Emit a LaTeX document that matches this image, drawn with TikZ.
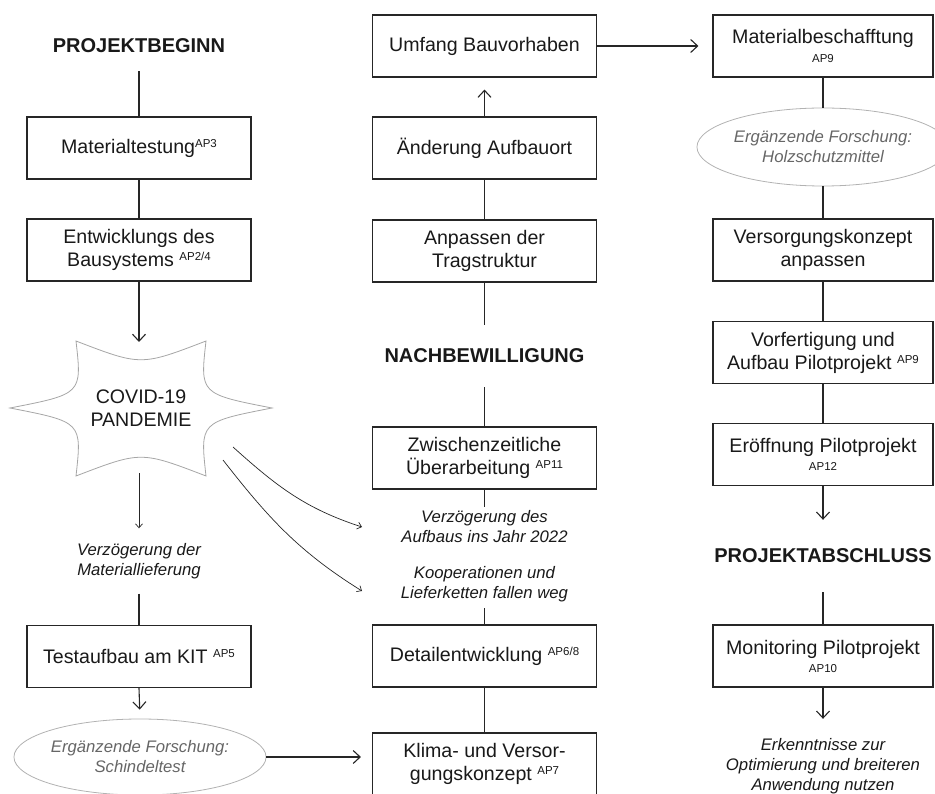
\documentclass[tikz,border=0pt]{standalone}
\usepackage{fontspec}
\setmainfont{Liberation Sans}
\usetikzlibrary{arrows.meta,shapes.geometric}
\newcommand\boxfont{\fontsize{19.6}{23}\selectfont}
\newcommand\ttlfont{\fontsize{20}{24}\selectfont\bfseries}
\newcommand\notefont{\fontsize{16.7}{20}\selectfont\itshape}
\newcommand\apx[1]{\raisebox{5.8pt}{\fontsize{11.5}{12}\selectfont #1}}
\newcommand\apb[1]{{\fontsize{11.5}{12}\selectfont #1}}
\tikzset{
  box/.style={draw=black!85, line width=1.1pt, minimum width=224pt, minimum height=62pt,
    inner sep=0pt, align=center, font=\boxfont, text=black!90},
  rbox/.style={box, minimum width=220pt},
  ttl/.style={font=\ttlfont, inner sep=0pt, align=center, text=black!90},
  note/.style={font=\notefont, inner sep=0pt, align=center, text=black!90},
  res/.style={ellipse, draw=black!30, line width=0.8pt, minimum width=226pt, minimum height=76pt,
    inner sep=0pt, align=center, font=\notefont, text=black!60},
  conn/.style={draw=black!85, line width=1.1pt},
  arr/.style={conn, -{Straight Barb[length=7pt,width=13pt]}},
  thinarr/.style={draw=black!85, line width=0.7pt, -{Straight Barb[length=4pt,width=7pt]}},
  starline/.style={draw=black!35, line width=0.8pt}
}
\begin{document}
\begin{tikzpicture}[x=1pt,y=-1pt]
\useasboundingbox (0,0) rectangle (935,794);

% ---------- left column ----------
\node[ttl, minimum height=50pt] (title1) at (139,46) {PROJEKTBEGINN};
\node[box] (mat) at (139,148) {Materialtestung\apx{AP3}};
\node[box] (entw) at (139,250) {Entwicklungs des\\Bausystems \apx{AP2/4}};
\coordinate (covtop) at (139,342);
\draw[starline] (76,341) .. controls (141,366) .. (206,341)
  .. controls (200,394) .. (272,408)
  .. controls (200,422) .. (206,476)
  .. controls (141,451) .. (76,476)
  .. controls (82,422) .. (10,408)
  .. controls (82,394) .. (76,341) -- cycle;
\node[font=\boxfont, align=center, inner sep=0pt, text=black!90] (covid) at (141,408) {COVID-19\\PANDEMIE};
\coordinate (covbot) at (139,473);
\node[note, minimum height=65pt] (verz1) at (139,561) {Verzögerung der\\Materiallieferung};
\node[box] (test) at (139,656.5) {Testaufbau am KIT \apx{AP5}};
\node[res] (schindel) at (140,757) {Ergänzende Forschung:\\Schindeltest};

\draw[conn] (title1.south) -- (mat.north);
\draw[conn] (mat.south) -- (entw.north);
\draw[arr] (entw.south) -- (covtop);
\draw[thinarr] (covbot) -- (verz1.north);
\draw[conn] (verz1.south) -- (test.north);
\draw[arr, shorten >=9pt] (test.south) -- (schindel.north);

% ---------- centre column ----------
\node[box] (umf) at (484.5,46) {Umfang Bauvorhaben};
\node[box] (aend) at (484.5,148) {Änderung Aufbauort};
\node[box] (anp) at (484.5,251) {Anpassen der\\Tragstruktur};
\node[ttl, minimum height=62pt] (title2) at (484.5,356) {NACHBEWILLIGUNG};
\node[box] (zw) at (484.5,458) {Zwischenzeitliche\\Überarbeitung \apx{AP11}};
\node[note, minimum height=40pt] (verz2) at (484.5,527) {Verzögerung des\\Aufbaus ins Jahr 2022};
\node[note, minimum height=48pt] (koop) at (484.5,584) {Kooperationen und\\Lieferketten fallen weg};
\node[box] (det) at (484.5,656) {Detailentwicklung \apx{AP6/8}};
\node[box] (klima) at (484.5,764) {Klima- und Versor-\\gungskonzept \apx{AP7}};

\draw[arr, shorten >=12pt] (aend.north) -- (umf.south);
\draw[conn] (aend.south) -- (anp.north);
\draw[conn] (anp.south) -- (title2.north);
\draw[conn] (title2.south) -- (zw.north);
\draw[conn] (zw.south) -- (verz2.north);
\draw[conn] (koop.south) -- (det.north);
\draw[conn] (det.south) -- (klima.north);

\coordinate (cvA) at (233,447);
\coordinate (cvB) at (223,460);
\coordinate (vzA) at (362,527);
\coordinate (koA) at (362,591);
\draw[thinarr] (cvA) to[out=-42,in=162] (vzA);
\draw[thinarr] (cvB) to[out=-52,in=148] (koA);

\draw[arr, shorten >=11pt] (schindel.east) -- (schindel.east -| klima.west);

% ---------- right column ----------
\node[rbox] (mb) at (823,46) {Materialbeschafftung\\[-4pt]\apb{AP9}};
\node[res, minimum width=224pt, minimum height=78pt] (holz) at (823,147) {Ergänzende Forschung:\\Holzschutzmittel};
\node[rbox] (vers) at (823,250) {Versorgungskonzept\\anpassen};
\node[rbox] (vorf) at (823,352.5) {Vorfertigung und\\Aufbau Pilotprojekt \apx{AP9}};
\node[rbox] (eroff) at (823,454.5) {Eröffnung Pilotprojekt\\[-5pt]\apb{AP12}};
\node[ttl, minimum height=72pt] (title3) at (823,556) {PROJEKTABSCHLUSS};
\node[rbox] (moni) at (823,656) {Monitoring Pilotprojekt\\[-5pt]\apb{AP10}};
\node[note, minimum height=94pt] (erk) at (823,766) {Erkenntnisse zur\\Optimierung und breiteren\\Anwendung nutzen};

\draw[arr, shorten >=14pt] (umf.east) -- (mb.west);
\draw[conn] (mb.south) -- (holz.north);
\draw[conn] (holz.south) -- (vers.north);
\draw[conn] (vers.south) -- (vorf.north);
\draw[conn] (vorf.south) -- (eroff.north);
\draw[arr] (eroff.south) -- (title3.north);
\draw[conn] (title3.south) -- (moni.north);
\draw[arr] (moni.south) -- (erk.north);
\end{tikzpicture}
\end{document}
